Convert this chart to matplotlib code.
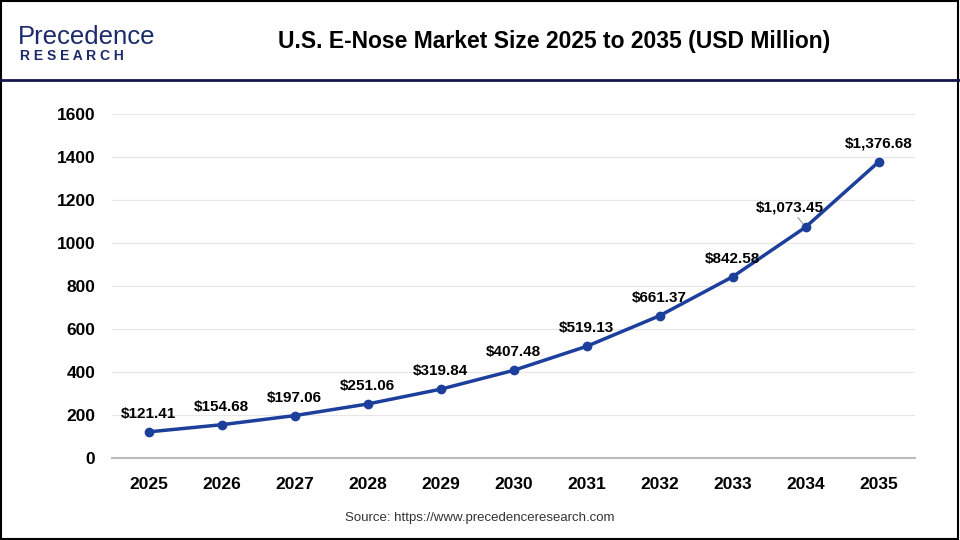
import matplotlib
matplotlib.use("Agg")
import matplotlib.pyplot as plt
from matplotlib.patches import Rectangle
from matplotlib.lines import Line2D

years = ["2025", "2026", "2027", "2028", "2029", "2030", "2031", "2032", "2033", "2034", "2035"]
values = [121.41, 154.68, 197.06, 251.06, 319.84, 407.48, 519.13, 661.37, 842.58, 1073.45, 1376.68]
labels = ["$121.41", "$154.68", "$197.06", "$251.06", "$319.84", "$407.48",
          "$519.13", "$661.37", "$842.58", "$1,073.45", "$1,376.68"]
yticks = [0, 200, 400, 600, 800, 1000, 1200, 1400, 1600]

LINE = "#1d3f9c"
plt.rcParams['font.family'] = ['Liberation Sans', 'DejaVu Sans']

fig = plt.figure(figsize=(9.6, 5.4), dpi=100)

# outer border and header separator
fig.add_artist(Rectangle((0.001, 0.002), 0.997, 0.996, transform=fig.transFigure,
                         fill=False, edgecolor="black", linewidth=1.5))
fig.add_artist(Line2D([0, 1], [1 - 80 / 540, 1 - 80 / 540], transform=fig.transFigure,
                      color="#16164a", linewidth=2))

# logo
fig.text(18 / 960, 1 - 37 / 540, "Precedence", fontsize=18.5, color="#1b2a6b",
         va="center", ha="left")
fig.text(20 / 960, 1 - 56 / 540, "R E S E A R C H", fontsize=10, color="#1b2a6b",
         fontweight="bold", va="center", ha="left")

# title
fig.text(554 / 960, 1 - 42 / 540, "U.S. E-Nose Market Size 2025 to 2035 (USD Million)",
         fontsize=16.5, fontweight="bold", ha="center", va="center")

ax = fig.add_axes([112 / 960, 1 - 458 / 540, (915 - 112) / 960, (458 - 114) / 540])
x = list(range(len(years)))
ax.plot(x, values, color=LINE, linewidth=2.5, marker="o", markersize=6, zorder=3)

for i, (v, lab) in enumerate(zip(values, labels)):
    if i == 9:
        ax.annotate(lab, xy=(i, v), xytext=(-11, 9), textcoords="offset points",
                    ha="center", va="bottom", fontsize=11, fontweight="bold",
                    arrowprops=dict(arrowstyle="-", color="#999999", linewidth=0.8,
                                    shrinkA=0, shrinkB=3))
    else:
        ax.annotate(lab, xy=(i, v), xytext=(0, 8), textcoords="offset points",
                    ha="center", va="bottom", fontsize=11, fontweight="bold")

ax.set_xlim(-0.5, len(years) - 0.5)
ax.set_ylim(0, 1600)
ax.set_yticks(yticks)
ax.set_xticks(x)
ax.set_xticklabels(years)
ax.grid(axis="y", color="#e6e6e6", linewidth=0.8)
ax.set_axisbelow(True)
for s in ["top", "right", "left"]:
    ax.spines[s].set_visible(False)
ax.spines["bottom"].set_color("#bbbbbb")
ax.spines["bottom"].set_linewidth(1.5)
ax.tick_params(axis="both", length=0, labelsize=12.5)
ax.tick_params(axis="x", pad=14)
ax.tick_params(axis="y", pad=12)
for t in ax.get_xticklabels() + ax.get_yticklabels():
    t.set_fontweight("bold")

fig.text(480 / 960, 1 - 518 / 540, "Source: https://www.precedenceresearch.com",
         fontsize=9.5, color="#333333", ha="center", va="center")

fig.savefig("out.png", dpi=100)
